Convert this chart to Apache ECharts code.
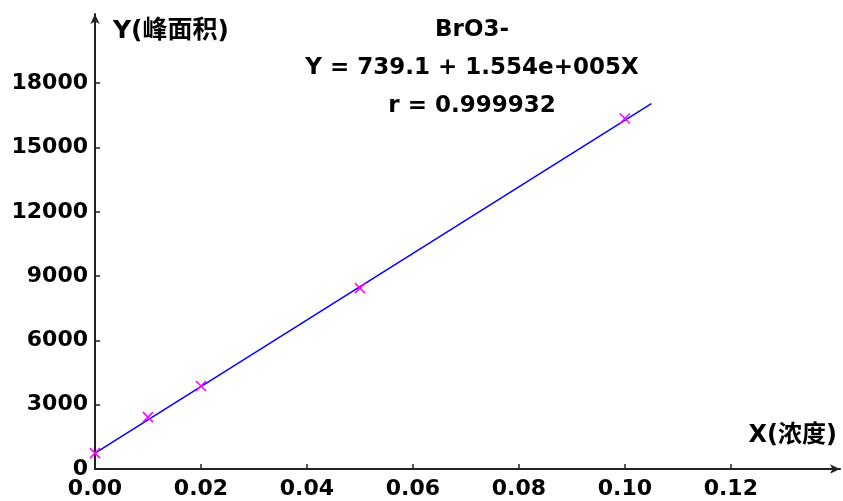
<!DOCTYPE html>
<html>
<head>
<meta charset="utf-8">
<script src="https://cdn.jsdelivr.net/npm/echarts@6/dist/echarts.min.js"></script>
<style>html,body{margin:0;padding:0;background:#fff}#c{width:843px;height:501px}</style>
</head>
<body>
<div id="c"></div>
<script>
var compoundName = 'BrO3-';
var interceptText = '739.1';
var slopeText = '1.554e+005';
var rText = '0.999932';
var xName = 'X(浓度)';
var yName = 'Y(峰面积)';
var xTicks = [0, 0.02, 0.04, 0.06, 0.08, 0.10, 0.12];
var yTicks = [0, 3000, 6000, 9000, 12000, 15000, 18000];
var pointX = [0, 0.01, 0.02, 0.05, 0.10];
var pointY = [740, 2420, 3870, 8440, 16350];
var fitLine = [[0, 739.1], [0.105, 17050]];

var labelFont = '"DejaVu Sans", "Noto Sans CJK SC", sans-serif';
var chart = echarts.init(document.getElementById('c'), null, {renderer: 'canvas'});
chart.setOption({
  backgroundColor: '#ffffff',
  animation: false,
  title: {
    text: compoundName + '\nY = ' + interceptText + ' + ' + slopeText + 'X\nr = ' + rText,
    left: 467, top: 6, textAlign: 'center',
    textStyle: {fontFamily: labelFont, fontWeight: 'bold', fontSize: 23, lineHeight: 38, color: '#000'}
  },
  grid: {left: 95, right: 3, top: 14, bottom: 32, outerBoundsMode: 'none'},
  xAxis: {
    type: 'value', min: 0, max: 0.1406,
    name: xName, nameLocation: 'end', nameGap: -3, nameMoveOverlap: false,
    nameTextStyle: {fontFamily: labelFont, fontWeight: 'bold', fontSize: 24, color: '#000', align: 'right', verticalAlign: 'bottom', padding: [0, 0, 21, 0]},
    splitLine: {show: false},
    axisLine: {lineStyle: {color: '#222', width: 2}, symbol: ['none', 'arrow'], symbolSize: [7, 10]},
    axisTick: {show: true, inside: true, length: 5, lineStyle: {color: '#222', width: 1.5}, customValues: xTicks},
    axisLabel: {customValues: xTicks, margin: 9, fontFamily: labelFont, fontWeight: 'bold', fontSize: 22, color: '#000',
      formatter: function (v) { return v.toFixed(2); }}
  },
  yAxis: {
    type: 'value', min: 0, max: 21230,
    name: yName, nameLocation: 'end', nameGap: -17, nameMoveOverlap: false,
    nameTextStyle: {fontFamily: labelFont, fontWeight: 'bold', fontSize: 25, color: '#000', align: 'left', verticalAlign: 'middle', padding: [0, 0, 0, 18]},
    splitLine: {show: false},
    axisLine: {lineStyle: {color: '#222', width: 2}, symbol: ['none', 'arrow'], symbolSize: [7, 10]},
    axisTick: {show: true, inside: true, length: 5, lineStyle: {color: '#222', width: 1.5}, customValues: yTicks},
    axisLabel: {customValues: yTicks, margin: 7, fontFamily: labelFont, fontWeight: 'bold', fontSize: 22, color: '#000',
      formatter: function (v) { return String(v); }}
  },
  series: [
    {
      type: 'line', data: fitLine, symbol: 'none',
      lineStyle: {color: '#0000ff', width: 1.5}, z: 2
    },
    {
      type: 'scatter',
      data: pointX.map(function (x, i) { return [x, pointY[i]]; }),
      symbol: 'path://M0,0L10,10M10,0L0,10', symbolSize: 10,
      itemStyle: {color: 'rgba(0,0,0,0)', borderColor: '#ff00ff', borderWidth: 1.5, opacity: 1}, z: 3
    }
  ]
});
</script>
</body>
</html>
